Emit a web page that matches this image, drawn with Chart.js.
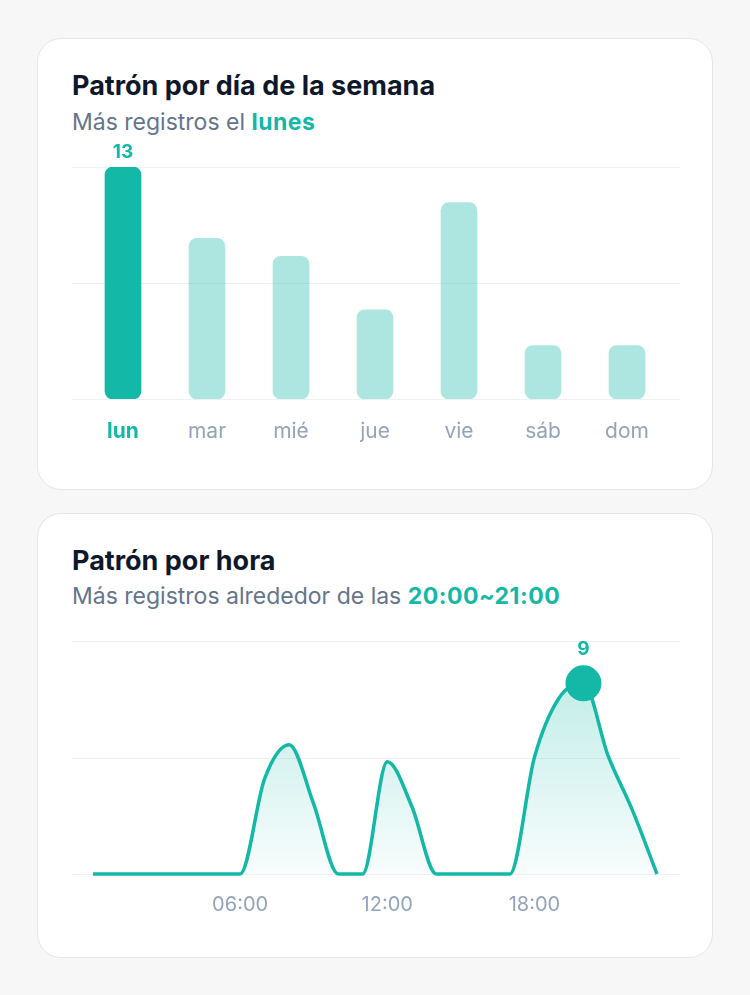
<!DOCTYPE html>
<html>
<head>
<meta charset="utf-8">
<script src="https://cdn.jsdelivr.net/npm/chart.js@4.4.1/dist/chart.umd.min.js"></script>
<style>
  html, body { margin: 0; padding: 0; }
  body { width: 750px; height: 995px; background: #f7f7f8; position: relative; font-family: Inter, "Noto Sans", sans-serif; overflow: hidden; }
  .card { position: absolute; left: 37px; width: 674px; background: #ffffff; border: 1.5px solid #e4e6ea; border-radius: 24px; }
  .title { position: absolute; left: 72px; font-size: 27px; line-height: 32px; font-weight: 700; color: #0f172a; white-space: nowrap; letter-spacing: 0px; }
  .sub { position: absolute; left: 72px; font-size: 23px; line-height: 28px; font-weight: 400; color: #64748b; white-space: nowrap; }
  .sub b { color: #14b8a6; font-weight: 700; letter-spacing: 0.5px; }
  .cv { position: absolute; left: 72px; width: 608px; }
</style>
</head>
<body>
<div class="card" style="top:38px;height:450px;"></div>
<div class="card" style="top:513px;height:443px;"></div>

<div class="title" style="top:70px;">Patrón por día de la semana</div>
<div class="sub" style="top:108px;">Más registros el <b>lunes</b></div>
<div class="cv" style="top:132px;height:337px;"><canvas id="c1"></canvas></div>

<div class="title" style="top:545px;">Patrón por hora</div>
<div class="sub" style="top:582px;">Más registros alrededor de las <b>20:00~21:00</b></div>
<div class="cv" style="top:608px;height:326px;"><canvas id="c2"></canvas></div>

<script>
const dayLabels = ['lun', 'mar', 'mié', 'jue', 'vie', 'sáb', 'dom'];
const dayValues = [13, 9, 8, 5, 11, 3, 3];

const hourLabels = ['00:00','01:00','02:00','03:00','04:00','05:00','06:00','07:00','08:00','09:00','10:00','11:00',
                    '12:00','13:00','14:00','15:00','16:00','17:00','18:00','19:00','20:00','21:00','22:00','23:00'];
const hourValues = [0, 0, 0, 0, 0, 0, 0, 4.5, 6.1, 3.3, 0, 0,
                    5.3, 3.2, 0, 0, 0, 0, 5.5, 8.3, 9, 5.6, 3.0, 0];
const hourTicksShown = ['06:00', '12:00', '18:00'];

const TEAL = '#14b8a6';
const TEAL_LIGHT = 'rgba(20,184,166,0.35)';
const GRAY = '#94a3b8';
const GRID = '#eef0f3';
const FONT = 'Inter, "Noto Sans", sans-serif';

const dayMax = Math.max(...dayValues);
const dayMaxIdx = dayValues.indexOf(dayMax);
const hourMax = Math.max(...hourValues);
const hourMaxIdx = hourValues.indexOf(hourMax);

const hGrid = {
  id: 'hGrid',
  beforeDatasetsDraw(chart) {
    const y = chart.scales.y;
    const ctx = chart.ctx;
    let vals = (y.ticks || []).map(t => t.value);
    if (!vals.length) vals = [y.min, (y.min + y.max) / 2, y.max];
    ctx.save();
    ctx.strokeStyle = GRID;
    ctx.lineWidth = 1;
    vals.forEach(v => {
      const py = Math.round(y.getPixelForValue(v)) + 0.5;
      ctx.beginPath();
      ctx.moveTo(0, py);
      ctx.lineTo(chart.width, py);
      ctx.stroke();
    });
    ctx.restore();
  }
};

const peakLabel = {
  id: 'peakLabel',
  afterDatasetsDraw(chart, args, opts) {
    const meta = chart.getDatasetMeta(0);
    const el = meta.data[opts.index];
    if (!el) return;
    const ctx = chart.ctx;
    ctx.save();
    ctx.fillStyle = TEAL;
    ctx.font = '700 19px ' + FONT;
    ctx.textAlign = 'center';
    ctx.textBaseline = 'middle';
    ctx.fillText(String(opts.text), el.x, el.y - opts.offset);
    ctx.restore();
  }
};

new Chart(document.getElementById('c1'), {
  type: 'bar',
  data: {
    labels: dayLabels,
    datasets: [{
      data: dayValues,
      backgroundColor: dayValues.map((v, i) => i === dayMaxIdx ? TEAL : TEAL_LIGHT),
      borderRadius: 8,
      borderSkipped: false,
      barThickness: 36
    }]
  },
  options: {
    responsive: true,
    maintainAspectRatio: false,
    animation: false,
    layout: { padding: { top: 35, left: 9, right: 11, bottom: 0 } },
    plugins: {
      legend: { display: false },
      tooltip: { enabled: false },
      peakLabel: { index: dayMaxIdx, text: dayMax, offset: 15 }
    },
    scales: {
      x: {
        grid: { display: false, drawTicks: false },
        border: { display: false },
        afterFit: s => { s.height = 70; },
        ticks: {
          padding: 20,
          maxRotation: 0,
          color: ctx => ctx.index === dayMaxIdx ? TEAL : GRAY,
          font: ctx => ({ family: FONT, size: 21, weight: ctx.index === dayMaxIdx ? '700' : '400' })
        }
      },
      y: {
        display: false,
        min: 0,
        max: dayMax,
        ticks: { stepSize: dayMax / 2 }
      }
    }
  },
  plugins: [hGrid, peakLabel]
});

new Chart(document.getElementById('c2'), {
  type: 'line',
  data: {
    labels: hourLabels,
    datasets: [{
      data: hourValues,
      borderColor: TEAL,
      borderWidth: 3.5,
      cubicInterpolationMode: 'monotone',
      fill: 'origin',
      backgroundColor: (ctx) => {
        const area = ctx.chart.chartArea;
        if (!area) return 'rgba(20,184,166,0.15)';
        const g = ctx.chart.ctx.createLinearGradient(0, area.top, 0, area.bottom);
        g.addColorStop(0, 'rgba(20,184,166,0.30)');
        g.addColorStop(1, 'rgba(20,184,166,0.03)');
        return g;
      },
      pointRadius: ctx => ctx.dataIndex === hourMaxIdx ? 17 : 0,
      pointHoverRadius: 0,
      pointBackgroundColor: TEAL,
      pointBorderColor: TEAL,
      pointBorderWidth: 2,
      clip: false
    }]
  },
  options: {
    responsive: true,
    maintainAspectRatio: false,
    animation: false,
    layout: { padding: { top: 33, left: 21, right: 23, bottom: 0 } },
    plugins: {
      legend: { display: false },
      tooltip: { enabled: false },
      peakLabel: { index: hourMaxIdx, text: hourMax, offset: 34 }
    },
    scales: {
      x: {
        grid: { display: false, drawTicks: false },
        border: { display: false },
        afterFit: s => { s.height = 60; },
        ticks: {
          autoSkip: false,
          maxRotation: 0,
          padding: 19,
          color: GRAY,
          font: { family: FONT, size: 20 },
          callback: function (val, idx) {
            const lab = hourLabels[idx];
            return hourTicksShown.includes(lab) ? lab : '';
          }
        }
      },
      y: {
        display: false,
        min: 0,
        max: 11,
        ticks: { stepSize: 5.5 }
      }
    }
  },
  plugins: [hGrid, peakLabel]
});
</script>
</body>
</html>
